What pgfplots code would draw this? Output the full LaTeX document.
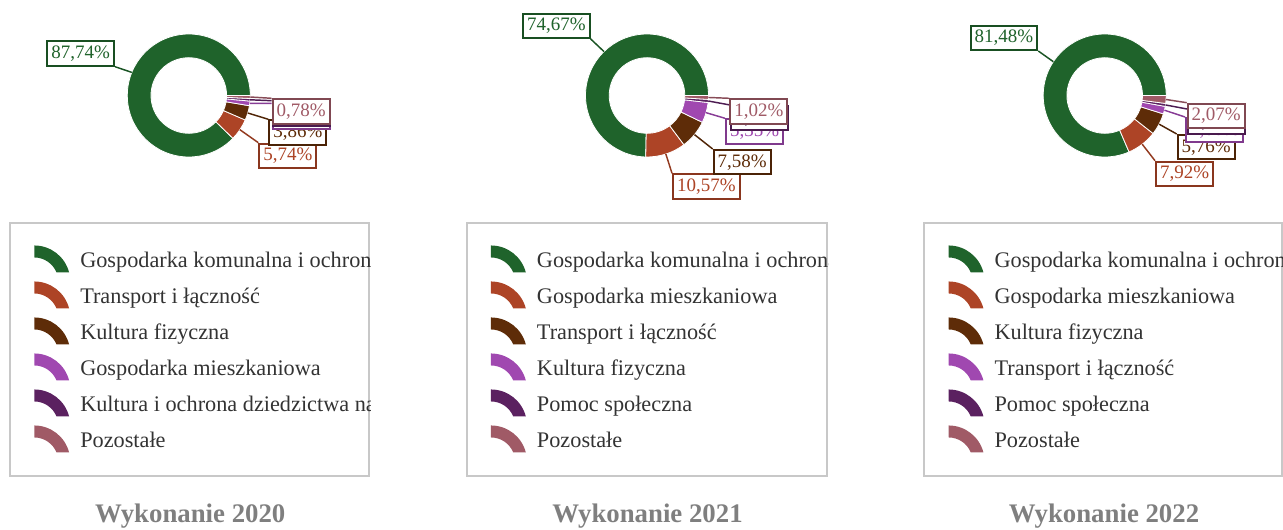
\documentclass[border=0pt]{standalone}
\usepackage{fontspec}
\setmainfont{Liberation Serif}
\usepackage{pgfplots}
\usepackage{pgfplotstable}
\pgfplotsset{compat=1.18}

\definecolor{sc0}{HTML}{1F632B}
\definecolor{sc1}{HTML}{AD4426}
\definecolor{sc2}{HTML}{5E2C08}
\definecolor{sc3}{HTML}{A048B0}
\definecolor{sc4}{HTML}{5B2160}
\definecolor{sc5}{HTML}{A05A66}
\definecolor{boxgray}{HTML}{C8C8C8}
\definecolor{legtext}{HTML}{333333}
\definecolor{titlegray}{HTML}{7F7F7F}

% val = share in %, lx/ly = label anchor offset from centre (px), side 0 = label left, 1 = label right
\pgfplotstableread{
cx    cy    val    lx     ly     side ci
188.8 433.5 87.74 -73.8   28.8   0    0
188.8 433.5  5.74  69.5  -47.2   1    1
188.8 433.5  3.86  79.5  -23.8   1    2
188.8 433.5  1.21  82.9   -7.8   1    3
188.8 433.5  0.67  82.9   -5.2   1    4
188.8 433.5  0.78  82.9   -2.8   1    5
}\tblA
\pgfplotstableread{
cx    cy    val    lx     ly     side ci
647.0 433.5 74.67 -56.3   56.5   0    0
647.0 433.5 10.57  25.0  -77.8   1    1
647.0 433.5  7.58  65.7  -53.5   1    2
647.0 433.5  5.35  78.0  -22.8   1    3
647.0 433.5  0.81  83.0   -9.5   1    4
647.0 433.5  1.02  82.3   -2.8   1    5
}\tblB
\pgfplotstableread{
cx     cy    val    lx     ly     side ci
1104.7 433.5 81.48 -66.4   44.5   0    0
1104.7 433.5  7.92  50.3  -65.2   1    1
1104.7 433.5  5.76  72.0  -38.5   1    2
1104.7 433.5  2.00  80.3  -21.5   1    3
1104.7 433.5  0.77  82.3  -13.5   1    4
1104.7 433.5  2.07  82.0   -7.2   1    5
}\tblC
\pgfplotstablecreatecol[create col/expr accum={\pgfmathaccuma + \thisrow{val}}{0}]{cum}{\tblA}
\pgfplotstablecreatecol[create col/expr accum={\pgfmathaccuma + \thisrow{val}}{0}]{cum}{\tblB}
\pgfplotstablecreatecol[create col/expr accum={\pgfmathaccuma + \thisrow{val}}{0}]{cum}{\tblC}

\pgfplotsset{
  panel/.style={
    at={(0pt,0pt)}, anchor=south west,
    scale only axis, width=962.25pt, height=396.75pt,
    xmin=0, xmax=1283, ymin=0, ymax=529,
    hide axis, clip=false,
    legend cell align=left,
    legend style={draw=none, fill=none, inner sep=0pt, anchor=north west,
      row sep=6.75pt, column sep=0pt,
      font=\fontsize{16.7}{19}\selectfont,
      nodes={inner sep=0pt, text height=13.5pt, text depth=1.2pt, text=legtext}},
  },
  sliceimg/.style={legend image code/.code={%
    \fill[fill=#1, draw=none] (0pt,10.125pt) arc[start angle=90, end angle=14.48, radius=27pt]
      -- (16.69pt,-10.125pt) arc[start angle=22.02, end angle=90, radius=18pt] -- cycle;
    \path[draw=none, fill=none] (0pt,-10.125pt) rectangle (34.5pt,10.125pt);
  }},
  donut/.style={
    scatter, only marks, mark=*, mark size=0.01pt, mark options={white}, forget plot,
    visualization depends on={\thisrow{cum}-\thisrow{val} \as \st},
    visualization depends on={\thisrow{val} \as \val},
    visualization depends on={0.75*\thisrow{lx} \as \lx},
    visualization depends on={0.75*\thisrow{ly} \as \ly},
    visualization depends on={\thisrow{side} \as \side},
    visualization depends on={\thisrow{ci} \as \cif},
    scatter/@pre marker code/.code={%
      \pgfmathtruncatemacro\ci{\cif}%
      \pgfmathsetmacro\aS{3.6*\st}%
      \pgfmathsetmacro\aE{3.6*(\st+\val)}%
      \pgfmathsetmacro\aM{0.5*(\aS+\aE)}%
      \fill[fill=sc\ci, draw=white, line width=0.6pt] (\aS:46.125pt)
        arc[start angle=\aS, end angle=\aE, radius=46.125pt] -- (\aE:28.35pt)
        arc[start angle=\aE, end angle=\aS, radius=28.35pt] -- cycle;
      \draw[sc\ci!85!black, line width=1.1pt] (\aM:46.125pt) -- (\lx pt,\ly pt);
      \ifdim\side pt<0.5pt \def\anc{south east}\else\def\anc{north west}\fi
      \node[anchor=\anc, draw=sc\ci!80!black, fill=white, line width=1.5pt,
        text=sc\ci, inner xsep=3pt, inner ysep=2.5pt, text height=10.3pt, text depth=2.9pt,
        font=\fontsize{14.25}{16}\selectfont] at (\lx pt,\ly pt)
        {\pgfmathprintnumber[fixed,fixed zerofill,precision=2,use comma,assume math mode=true]{\val}\%};
    },
    scatter/@post marker code/.code={},
  },
}

\begin{document}
\begin{tikzpicture}
\useasboundingbox (0pt,0pt) rectangle (962.25pt,396.75pt);

% ---------- 2020 ----------
\begin{scope}
\clip (6.375pt,0pt) rectangle (278.1pt,396.75pt);
\begin{axis}[panel, legend style={at={({34/1283},{283.8/529})}}]
  \draw[boxgray, line width=1.5pt] (axis cs:10,53) rectangle (axis cs:369,306.3);
  \addplot[donut] table[x=cx, y=cy] {\tblA};
  \addlegendimage{sliceimg=sc0}\addlegendentry{Gospodarka komunalna i ochrona środowiska}
  \addlegendimage{sliceimg=sc1}\addlegendentry{Transport i łączność}
  \addlegendimage{sliceimg=sc2}\addlegendentry{Kultura fizyczna}
  \addlegendimage{sliceimg=sc3}\addlegendentry{Gospodarka mieszkaniowa}
  \addlegendimage{sliceimg=sc4}\addlegendentry{Kultura i ochrona dziedzictwa narodowego}
  \addlegendimage{sliceimg=sc5}\addlegendentry{Pozostałe}
  \node[anchor=base, text=titlegray, font=\bfseries\fontsize{20.1}{24}\selectfont] at (axis cs:190.2,6.5) {Wykonanie 2020};
\end{axis}
\end{scope}

% ---------- 2021 ----------
\begin{scope}
\clip (348.9pt,0pt) rectangle (621.15pt,396.75pt);
\begin{axis}[panel, legend style={at={({490.7/1283},{283.8/529})}}]
  \draw[boxgray, line width=1.5pt] (axis cs:466.7,53) rectangle (axis cs:826.7,306.3);
  \addplot[donut] table[x=cx, y=cy] {\tblB};
  \addlegendimage{sliceimg=sc0}\addlegendentry{Gospodarka komunalna i ochrona środowiska}
  \addlegendimage{sliceimg=sc1}\addlegendentry{Gospodarka mieszkaniowa}
  \addlegendimage{sliceimg=sc2}\addlegendentry{Transport i łączność}
  \addlegendimage{sliceimg=sc3}\addlegendentry{Kultura fizyczna}
  \addlegendimage{sliceimg=sc4}\addlegendentry{Pomoc społeczna}
  \addlegendimage{sliceimg=sc5}\addlegendentry{Pozostałe}
  \node[anchor=base, text=titlegray, font=\bfseries\fontsize{20.1}{24}\selectfont] at (axis cs:647.5,6.5) {Wykonanie 2021};
\end{axis}
\end{scope}

% ---------- 2022 ----------
\begin{scope}
\clip (691.9pt,0pt) rectangle (962.25pt,396.75pt);
\begin{axis}[panel, legend style={at={({948.3/1283},{283.8/529})}}]
  \draw[boxgray, line width=1.5pt] (axis cs:924,53) rectangle (axis cs:1282,306.3);
  \addplot[donut] table[x=cx, y=cy] {\tblC};
  \addlegendimage{sliceimg=sc0}\addlegendentry{Gospodarka komunalna i ochrona środowiska}
  \addlegendimage{sliceimg=sc1}\addlegendentry{Gospodarka mieszkaniowa}
  \addlegendimage{sliceimg=sc2}\addlegendentry{Kultura fizyczna}
  \addlegendimage{sliceimg=sc3}\addlegendentry{Transport i łączność}
  \addlegendimage{sliceimg=sc4}\addlegendentry{Pomoc społeczna}
  \addlegendimage{sliceimg=sc5}\addlegendentry{Pozostałe}
  \node[anchor=base, text=titlegray, font=\bfseries\fontsize{20.1}{24}\selectfont] at (axis cs:1104,6.5) {Wykonanie 2022};
\end{axis}
\end{scope}
\end{tikzpicture}
\end{document}
